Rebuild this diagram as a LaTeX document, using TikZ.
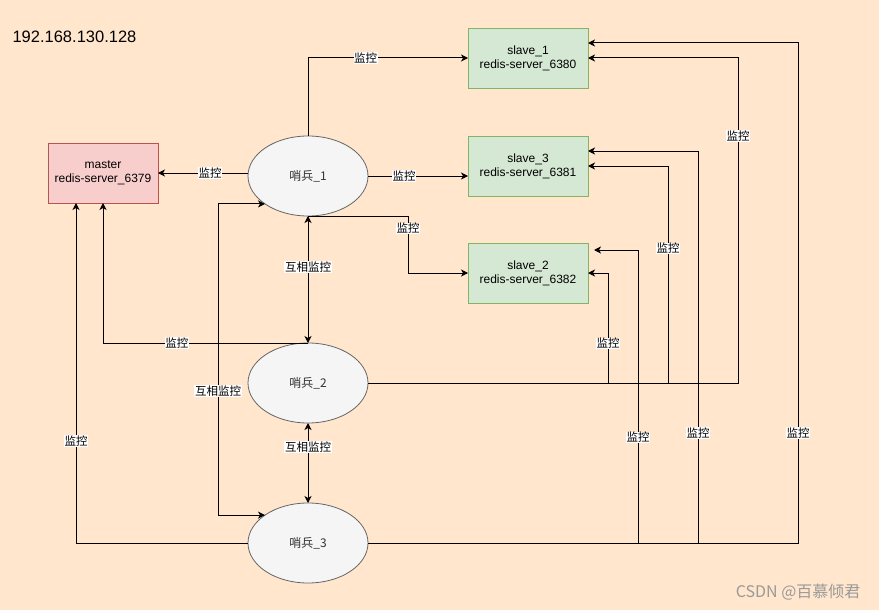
\documentclass[tikz,border=0pt]{standalone}
\usepackage{fontspec}
\setmainfont{Liberation Sans}
\newfontfamily\cjk{Noto Sans CJK SC}
\usetikzlibrary{arrows.meta,shapes.geometric,calc}
\definecolor{bgc}{HTML}{FFE6CC}
\definecolor{mfill}{HTML}{F8CECC}
\definecolor{mdraw}{HTML}{B85450}
\definecolor{sfill}{HTML}{D5E8D4}
\definecolor{sdraw}{HTML}{82B366}
\definecolor{efill}{HTML}{F5F5F5}
\definecolor{edraw}{HTML}{666666}
\definecolor{etext}{HTML}{333333}
\definecolor{wm}{HTML}{9A9A9A}
\begin{document}
\begin{tikzpicture}[x=1pt,y=-1pt,
  >={Stealth[length=7pt,width=7pt,inset=2pt]},
  conn/.style={draw=black,line width=1pt},
  lbl/.style={fill=white,inner sep=0.6pt,font=\cjk\fontsize{11.5}{13}\selectfont,text=black},
  srv/.style={rectangle,minimum width=120pt,minimum height=60pt,inner sep=0pt,outer sep=0pt,align=center,line width=0.8pt,font=\fontsize{12}{14}\selectfont},
  master/.style={srv,minimum width=110pt,fill=mfill,draw=mdraw},
  slave/.style={srv,fill=sfill,draw=sdraw},
  snt/.style={ellipse,minimum width=120pt,minimum height=80pt,inner sep=0pt,outer sep=0pt,draw=edraw,fill=efill,line width=0.8pt,font=\cjk\fontsize{12}{14}\selectfont,text=etext}]
\fill[bgc] (0,0) rectangle (879,610);
\useasboundingbox (0,0) rectangle (879,610);

\node[anchor=west,font=\fontsize{16.5}{18}\selectfont] (ip) at (9,37) {192.168.130.128};

\node[master] (m) at (103,173) {master\\redis-server\_6379};
\node[slave] (sl1) at (528,58) {slave\_1\\redis-server\_6380};
\node[slave] (sl3) at (528,166) {slave\_3\\redis-server\_6381};
\node[slave] (sl2) at (528,273) {slave\_2\\redis-server\_6382};

\node[snt] (s1) at (308,176) {哨兵\_1};
\node[snt] (s2) at (308,383) {哨兵\_2};
\node[snt] (s3) at (308,543) {哨兵\_3};

% sentinel 1
\draw[conn,->] (m.east -| s1.west) -- node[lbl,pos=0.42]{监控} (m.east);
\draw[conn,->] (s1.north) |- node[lbl,pos=0.68]{监控} (sl1.west);
\draw[conn,->] (s1.east) -- node[lbl,pos=0.36]{监控} (s1.east -| sl3.west);
\draw[conn,->] (s1.south) -- ++(100,0) |- node[lbl,pos=0.11]{监控} (sl2.west);

% mutual
\draw[conn,<->] (s1.south) -- node[lbl,pos=0.4]{互相监控} (s2.north);
\draw[conn,<->] (s2.south) -- node[lbl,pos=0.3]{互相监控} (s3.north);
\draw[conn,<->] (s1.213) -- ++(-47,0) |- node[lbl,pos=0.3]{互相监控} (s3.147);

% to master
\draw[conn,->] (s2.north) -| node[lbl,pos=0.32]{监控} (m.south);
\draw[conn,->] (s3.west) -| node[lbl,pos=0.65]{监控} ([xshift=-27pt]m.south);

% sentinel 2 to slaves
\draw[conn,->] (s2.east) -- ++(370,0) |- node[lbl,pos=0.38]{监控} (sl1.east);
\draw[conn,->] (s2.east) -- ++(300,0) |- node[lbl,pos=0.31]{监控} (sl3.east);
\draw[conn,->] (s2.east) -- ++(240,0) |- node[lbl,pos=0.18]{监控} (sl2.east);

% sentinel 3 to slaves
\draw[conn,->] (s3.east) -- ++(430,0) |- node[lbl,pos=0.11]{监控} ([yshift=15pt]sl1.east);
\draw[conn,->] (s3.east) -- ++(330,0) |- node[lbl,pos=0.14]{监控} ([yshift=15pt]sl3.east);
\draw[conn,->] (s3.east) -- ++(270,0) |- node[lbl,pos=0.18]{监控} ([shift={(6pt,23pt)}]sl2.east);

\node[anchor=east,text=wm,font=\cjk\fontsize{16}{18}\selectfont] (wmk) at (864,592) {CSDN @百慕倾君};
\end{tikzpicture}
\end{document}
